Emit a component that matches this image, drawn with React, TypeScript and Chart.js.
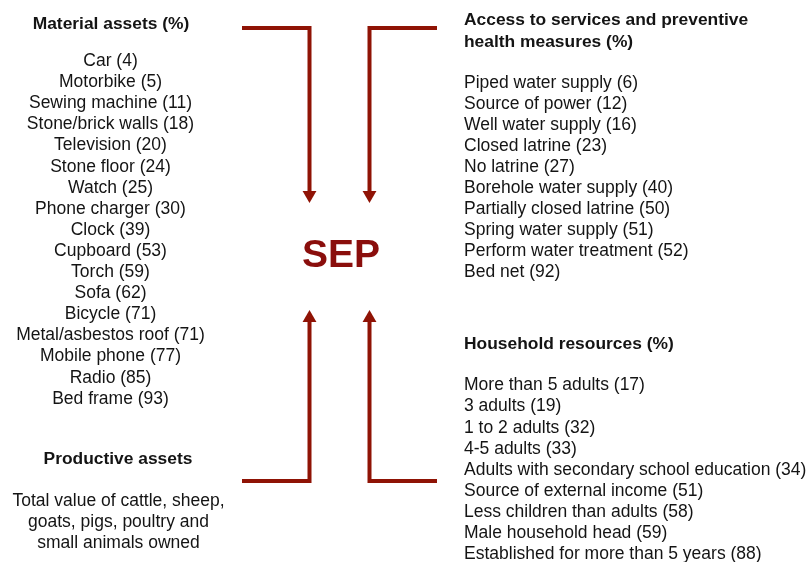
import { useEffect, useRef } from "react";
import { Chart, registerables } from "chart.js";

Chart.register(...registerables);

// ---- Data ----
const materialTitle = "Material assets (%)";
const materialItems = [
  "Car", "Motorbike", "Sewing machine", "Stone/brick walls", "Television",
  "Stone floor", "Watch", "Phone charger", "Clock", "Cupboard", "Torch",
  "Sofa", "Bicycle", "Metal/asbestos roof", "Mobile phone", "Radio", "Bed frame",
];
const materialValues = [4, 5, 11, 18, 20, 24, 25, 30, 39, 53, 59, 62, 71, 71, 77, 85, 93];

const servicesTitle = ["Access to services and preventive", "health measures (%)"];
const servicesItems = [
  "Piped water supply", "Source of power", "Well water supply", "Closed latrine",
  "No latrine", "Borehole water supply", "Partially closed latrine",
  "Spring water supply", "Perform water treatment", "Bed net",
];
const servicesValues = [6, 12, 16, 23, 27, 40, 50, 51, 52, 92];

const householdTitle = "Household resources (%)";
const householdItems = [
  "More than 5 adults", "3 adults", "1 to 2 adults", "4-5 adults",
  "Adults with secondary school education", "Source of external income",
  "Less children than adults", "Male household head",
  "Established for more than 5 years",
];
const householdValues = [17, 19, 32, 33, 34, 51, 58, 59, 88];

const productiveTitle = "Productive assets";
const productiveText = [
  "Total value of cattle, sheep,",
  "goats, pigs, poultry and",
  "small animals owned",
];

const centerLabel = "SEP";

// ---- Styles / layout ----
const W = 808;
const H = 562;
const ARROW_COLOR = "#8f1305";
const SEP_COLOR = "#8a0e0c";
const TEXT_COLOR = "#141414";
const FONT_FAMILY = '"Liberation Sans", Arial, Helvetica, sans-serif';
const FONT_SIZE = 17.5;
const BOLD_SIZE = 17.4;
const LINE_H = 21.1;

// connector paths (diagram layout, in canvas units of the scales)
const arrowPaths = [
  { pts: [[242, 28], [309.5, 28], [309.5, 195]], rot: 180 },
  { pts: [[437, 28], [369.5, 28], [369.5, 195]], rot: 180 },
  { pts: [[242, 481], [309.5, 481], [309.5, 318]], rot: 0 },
  { pts: [[437, 481], [369.5, 481], [369.5, 318]], rot: 0 },
];

const font = (bold: boolean, size?: number) =>
  `${bold ? "bold " : ""}${size ?? (bold ? BOLD_SIZE : FONT_SIZE)}px ${FONT_FAMILY}`;

const textPlugin = {
  id: "diagramText",
  afterDraw(chart: any) {
    const ctx: CanvasRenderingContext2D = chart.ctx;
    const xs = chart.scales.x;
    const ys = chart.scales.y;
    const px = (v: number) => xs.getPixelForValue(v);
    const py = (v: number) => ys.getPixelForValue(v);
    ctx.save();
    ctx.textBaseline = "alphabetic";
    ctx.fillStyle = TEXT_COLOR;

    // Material assets (centered)
    ctx.textAlign = "center";
    ctx.font = font(true);
    ctx.fillText(materialTitle, px(111), py(29));
    ctx.font = font(false);
    materialItems.forEach((name, i) => {
      ctx.fillText(`${name} (${materialValues[i]})`, px(110.5), py(66 + i * LINE_H));
    });

    // Productive assets (centered)
    ctx.font = font(true);
    ctx.fillText(productiveTitle, px(118), py(464));
    ctx.font = font(false);
    productiveText.forEach((line, i) => {
      ctx.fillText(line, px(118.5), py(506 + i * 21));
    });

    // Services (left aligned)
    ctx.textAlign = "left";
    ctx.font = font(true);
    servicesTitle.forEach((line, i) => {
      ctx.fillText(line, px(464), py(25 + i * 21.5));
    });
    ctx.font = font(false);
    servicesItems.forEach((name, i) => {
      ctx.fillText(`${name} (${servicesValues[i]})`, px(464), py(88.3 + i * 20.93));
    });

    // Household
    ctx.font = font(true);
    ctx.fillText(householdTitle, px(464), py(349.3));
    ctx.font = font(false);
    householdItems.forEach((name, i) => {
      ctx.fillText(`${name} (${householdValues[i]})`, px(464), py(390.3 + i * LINE_H));
    });

    // SEP
    ctx.textAlign = "center";
    ctx.fillStyle = SEP_COLOR;
    ctx.font = font(true, 39);
    ctx.fillText(centerLabel, px(341), py(267));
    ctx.restore();
  },
};

export default function App() {
  const ref = useRef<HTMLCanvasElement | null>(null);

  useEffect(() => {
    if (!ref.current) return;
    const datasets = arrowPaths.map((a) => ({
      data: a.pts.map(([x, y]) => ({ x, y })),
      showLine: true,
      borderColor: ARROW_COLOR,
      borderWidth: 4,
      borderCapStyle: "butt" as const,
      borderJoinStyle: "miter" as const,
      tension: 0,
      fill: false,
      pointRadius: a.pts.map((_, i) => (i === a.pts.length - 1 ? 8 : 0)),
      pointHoverRadius: 0,
      pointStyle: "triangle" as const,
      pointRotation: a.rot,
      pointBackgroundColor: ARROW_COLOR,
      pointBorderColor: ARROW_COLOR,
      pointBorderWidth: 0,
      clip: false as any,
    }));
    const chart = new Chart(ref.current, {
      type: "scatter",
      data: { datasets },
      options: {
        animation: false,
        responsive: false,
        maintainAspectRatio: false,
        layout: { padding: 0, autoPadding: false },
        events: [],
        plugins: {
          legend: { display: false },
          tooltip: { enabled: false },
          title: { display: false },
        },
        scales: {
          x: { type: "linear", min: 0, max: W, display: false },
          y: { type: "linear", min: 0, max: H, reverse: true, display: false },
        },
      },
      plugins: [textPlugin],
    });
    return () => chart.destroy();
  }, []);

  return (
    <div
      style={{
        position: "fixed",
        left: 0,
        top: 0,
        width: W,
        height: H,
        background: "#ffffff",
      }}
    >
      <canvas ref={ref} width={W} height={H} style={{ width: W, height: H, display: "block" }} />
    </div>
  );
}
